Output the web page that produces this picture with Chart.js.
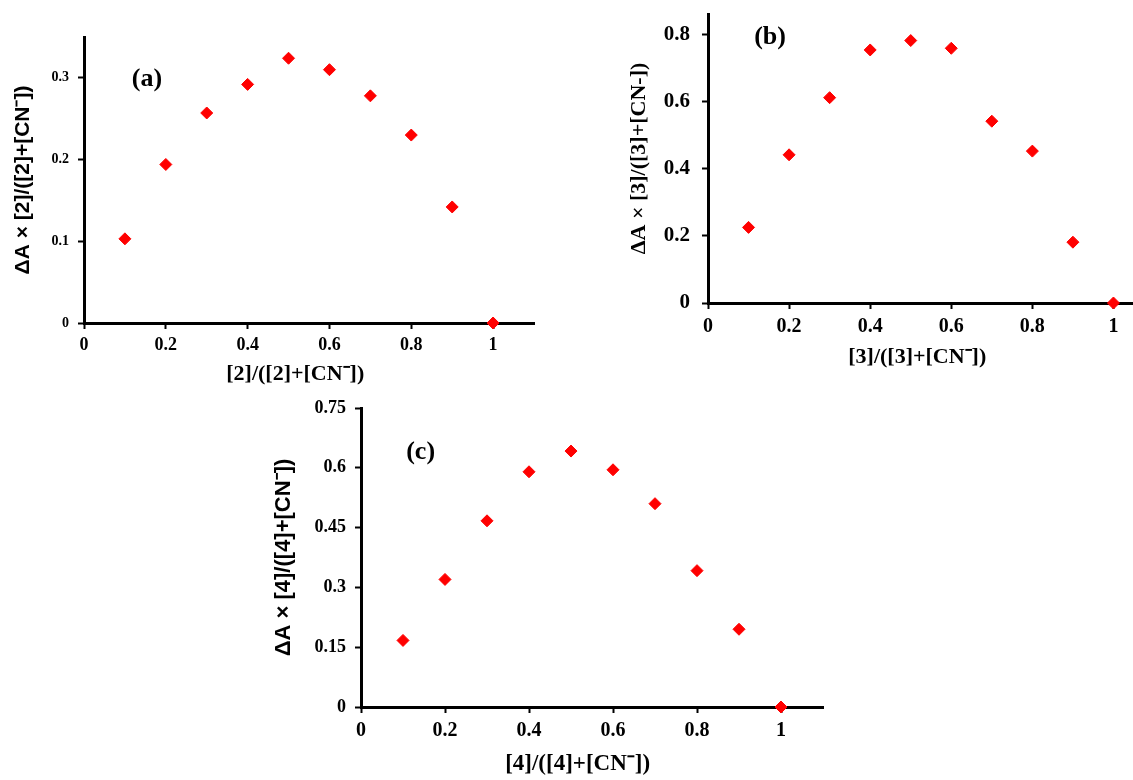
<!DOCTYPE html>
<html>
<head>
<meta charset="utf-8">
<script src="https://cdn.jsdelivr.net/npm/chart.js@4.4.0/dist/chart.umd.min.js"></script>
<style>
  html, body { margin:0; padding:0; background:#fff; overflow:hidden; }
  #wrap { position:relative; width:1133px; height:780px; overflow:hidden; background:#fff; }
  #wrap canvas { position:absolute; }
</style>
</head>
<body>
<div id="wrap">
  <canvas id="job_a" width="560" height="400" style="left:0px;top:0px"></canvas>
  <canvas id="job_b" width="580" height="380" style="left:600px;top:0px"></canvas>
  <canvas id="job_c" width="580" height="400" style="left:260px;top:380px"></canvas>
</div>
<script>
// mole fraction of host, same for all three job plots
var ratio = [0.1, 0.2, 0.3, 0.4, 0.5, 0.6, 0.7, 0.8, 0.9, 1.0];

// dA x fraction for receptors 2, 3 and 4
var dA2 = [0.103, 0.194, 0.257, 0.292, 0.324, 0.310, 0.278, 0.230, 0.142, 0];
var dA3 = [0.225, 0.441, 0.611, 0.753, 0.781, 0.758, 0.541, 0.452, 0.181, 0];
var dA4 = [0.167, 0.320, 0.467, 0.590, 0.642, 0.595, 0.510, 0.342, 0.195, 0];

var serif = '"Liberation Serif", "Times New Roman", serif';
var sans = '"Liberation Sans", Arial, sans-serif';
var nudge = '\u00a0\u00a0\u00a0\u00a0\u00a0'; // pushes x titles a bit to the left

// writes "(a)" etc. inside the plot at a data position
var panelTag = {
    id: 'panelTag',
    afterDatasetsDraw: function(chart, args, opts) {
        var ctx = chart.ctx;
        ctx.save();
        ctx.font = 'bold 26px ' + serif;
        ctx.fillStyle = '#000';
        ctx.textAlign = 'center';
        ctx.textBaseline = 'middle';
        ctx.fillText(opts.text, chart.scales.x.getPixelForValue(opts.x), chart.scales.y.getPixelForValue(opts.y));
        ctx.restore();
    }
};

function tickText(v) {
    return String(Math.round(v * 100) / 100);
}

function makeJob(id, values, o) {
    var points = [];
    for (var i = 0; i < ratio.length; i++) {
        points.push({x: ratio[i], y: values[i]});
    }
    return new Chart(document.getElementById(id), {
        type: 'scatter',
        data: {
            datasets: [{
                data: points,
                pointStyle: 'rectRot',
                pointRadius: 6,
                backgroundColor: '#ff0000',
                borderColor: '#ff0000',
                borderWidth: 1,
                clip: false
            }]
        },
        options: {
            responsive: false,
            animation: false,
            events: [],
            layout: { padding: o.pad },
            plugins: {
                legend: { display: false },
                tooltip: { enabled: false },
                panelTag: o.tag
            },
            scales: {
                x: {
                    type: 'linear', min: 0, max: 1.1,
                    grid: { display: true, drawOnChartArea: false, drawTicks: true, tickLength: 6, tickWidth: 2, tickColor: '#000' },
                    border: { display: true, color: '#000', width: 3 },
                    ticks: { stepSize: 0.2, includeBounds: false, color: '#000', padding: 6, maxRotation: 0,
                             font: { family: serif, weight: 'bold', size: o.xTick }, callback: tickText },
                    title: { display: true, text: o.xTitle + nudge, color: '#000',
                             font: { family: serif, weight: 'bold', size: o.xTitleSize }, padding: { top: 0, bottom: o.xTitlePad } },
                    afterFit: function(s) {
                        s.height = o.xH;
                        s.paddingLeft = 0;
                        s.paddingRight = 0;
                    }
                },
                y: {
                    type: 'linear', min: 0, max: o.yMax,
                    grid: { display: true, drawOnChartArea: false, drawTicks: true, tickLength: 6, tickWidth: 2, tickColor: '#000' },
                    border: { display: true, color: '#000', width: 3 },
                    ticks: { stepSize: o.yStep, includeBounds: false, color: '#000', padding: o.yTickPad,
                             font: { family: serif, weight: 'bold', size: o.yTick }, callback: tickText },
                    title: { display: true, text: o.yTitle, color: '#000',
                             font: { family: o.yTitleFont, weight: 'bold', size: o.yTitleSize }, padding: { top: o.yTitlePad, bottom: 0 } },
                    afterFit: function(s) {
                        s.width = o.yW;
                        s.paddingTop = 0;
                        s.paddingBottom = 0;
                    }
                }
            }
        },
        plugins: [panelTag]
    });
}

var jobChart2 = makeJob('job_a', dA2, {
    pad: { left: 0, top: 37, right: 26, bottom: 0 }, yW: 84, xH: 77,
    yMax: 0.35, yStep: 0.1, yTick: 14, yTickPad: 9, xTick: 18,
    yTitle: 'ΔA × [2]/([2]+[CN⁻])', yTitleFont: sans, yTitleSize: 21, yTitlePad: 11,
    xTitle: '[2]/([2]+[CN⁻])', xTitleSize: 22, xTitlePad: 12,
    tag: { text: '(a)', x: 0.154, y: 0.2985 }
});

var jobChart3 = makeJob('job_b', dA3, {
    pad: { left: 0, top: 14, right: 26, bottom: 0 }, yW: 108, xH: 77,
    yMax: 0.86, yStep: 0.2, yTick: 21, yTickPad: 12, xTick: 20,
    yTitle: 'ΔA × [3]/([3]+[CN-])', yTitleFont: serif, yTitleSize: 22, yTitlePad: 26,
    xTitle: '[3]/([3]+[CN⁻])', xTitleSize: 22, xTitlePad: 9,
    tag: { text: '(b)', x: 0.153, y: 0.79 }
});

var jobChart4 = makeJob('job_c', dA4, {
    pad: { left: 0, top: 28, right: 17, bottom: 0 }, yW: 101, xH: 73,
    yMax: 0.75, yStep: 0.15, yTick: 18, yTickPad: 9, xTick: 20,
    yTitle: 'ΔA × [4]/([4]+[CN⁻])', yTitleFont: sans, yTitleSize: 22, yTitlePad: 11,
    xTitle: '[4]/([4]+[CN⁻])', xTitleSize: 23, xTitlePad: 2,
    tag: { text: '(c)', x: 0.142, y: 0.639 }
});
</script>
</body>
</html>
